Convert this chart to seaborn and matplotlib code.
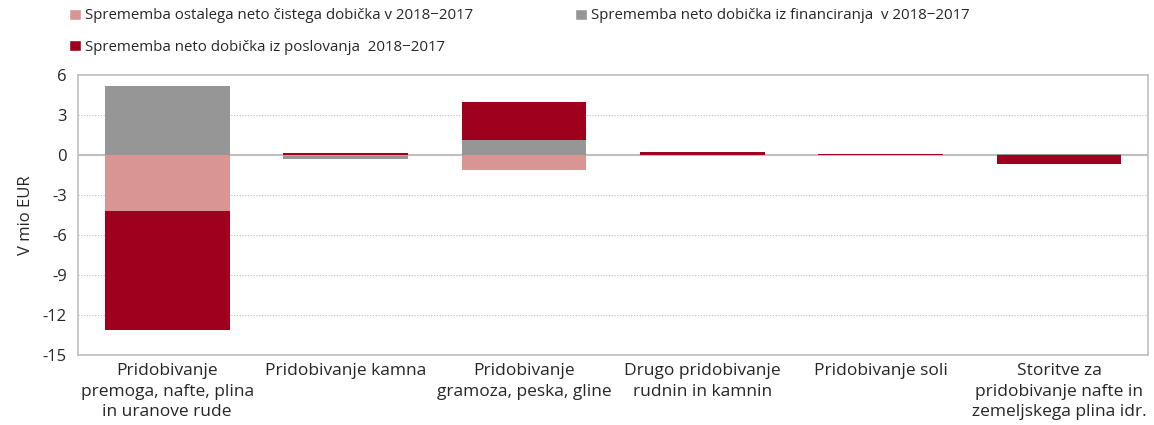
import matplotlib
matplotlib.use("Agg")
import matplotlib.pyplot as plt
import seaborn as sns
import numpy as np
import pandas as pd
from matplotlib.patches import Patch

categories = [
    "Pridobivanje\npremoga, nafte, plina\nin uranove rude",
    "Pridobivanje kamna",
    "Pridobivanje\ngramoza, peska, gline",
    "Drugo pridobivanje\nrudnin in kamnin",
    "Pridobivanje soli",
    "Storitve za\npridobivanje nafte in\nzemeljskega plina idr.",
]
ostalo = [-4.2, -0.05, -1.15, 0.0, 0.0, 0.0]
financiranje = [5.2, -0.25, 1.15, 0.0, 0.0, 0.1]
poslovanje = [-8.9, 0.12, 2.85, 0.25, 0.1, -0.7]

series_names = [
    "Sprememba ostalega neto čistega dobička v 2018\u22122017",
    "Sprememba neto dobička iz financiranja  v 2018\u22122017",
    "Sprememba neto dobička iz poslovanja  2018\u22122017",
]
colors = ["#D99594", "#969696", "#9E001E"]
yticks = [-15, -12, -9, -6, -3, 0, 3, 6]

sns.set_theme(style="white")
plt.rcParams["font.family"] = ["Open Sans", "DejaVu Sans"]

fig = plt.figure(figsize=(11.54, 4.25), dpi=100)
ax = fig.add_axes([0.0676, 0.1647, 0.9274, 0.6588])

series = [ostalo, financiranje, poslovanje]
pos_cum = np.zeros(len(categories))
neg_cum = np.zeros(len(categories))
pos_layers, neg_layers = [], []
for s in series:
    arr = np.array(s)
    pos_cum = pos_cum + np.where(arr > 0, arr, 0)
    neg_cum = neg_cum + np.where(arr < 0, arr, 0)
    pos_layers.append(pos_cum.copy())
    neg_layers.append(neg_cum.copy())

# draw outermost layers first, then overlay inner layers
for i in reversed(range(len(series))):
    for layer in (pos_layers[i], neg_layers[i]):
        df = pd.DataFrame({"cat": categories, "val": layer})
        sns.barplot(data=df, x="cat", y="val", order=categories, color=colors[i],
                    saturation=1, width=0.7, linewidth=0, errorbar=None, ax=ax)

ax.set_ylim(-15, 6)
ax.set_xlim(-0.5, len(categories) - 0.5)
ax.set_yticks(yticks)
ax.set_yticklabels([str(t) for t in yticks], fontsize=12)
ax.tick_params(axis="x", labelsize=12.5, length=0, pad=6)
for lbl in ax.get_xticklabels():
    lbl.set_linespacing(1.35)
ax.tick_params(axis="y", length=0, pad=8)
for t in [-12, -9, -6, -3, 3]:
    ax.axhline(t, color="#BBBBBB", linestyle=(0, (1, 1.5)), linewidth=0.8, zorder=0)
ax.axhline(0, color="#BFBFBF", linewidth=1.5, zorder=0.5)
for sp in ax.spines.values():
    sp.set_color("#BFBFBF")
    sp.set_linewidth(1.2)
ax.set_xlabel("")
ax.set_ylabel("V mio EUR", fontsize=12, labelpad=6)

handles = [Patch(facecolor=colors[0]), Patch(facecolor=colors[2]), Patch(facecolor=colors[1])]
labels = [series_names[0], series_names[2], series_names[1]]
fig.legend(handles, labels, ncol=2, loc="upper left", bbox_to_anchor=(0.048, 1.012),
           frameon=False, fontsize=10.8, handlelength=0.78, handleheight=0.78,
           handletextpad=0.3, columnspacing=6.8, labelspacing=1.08)

fig.savefig("out.png", dpi=100)
